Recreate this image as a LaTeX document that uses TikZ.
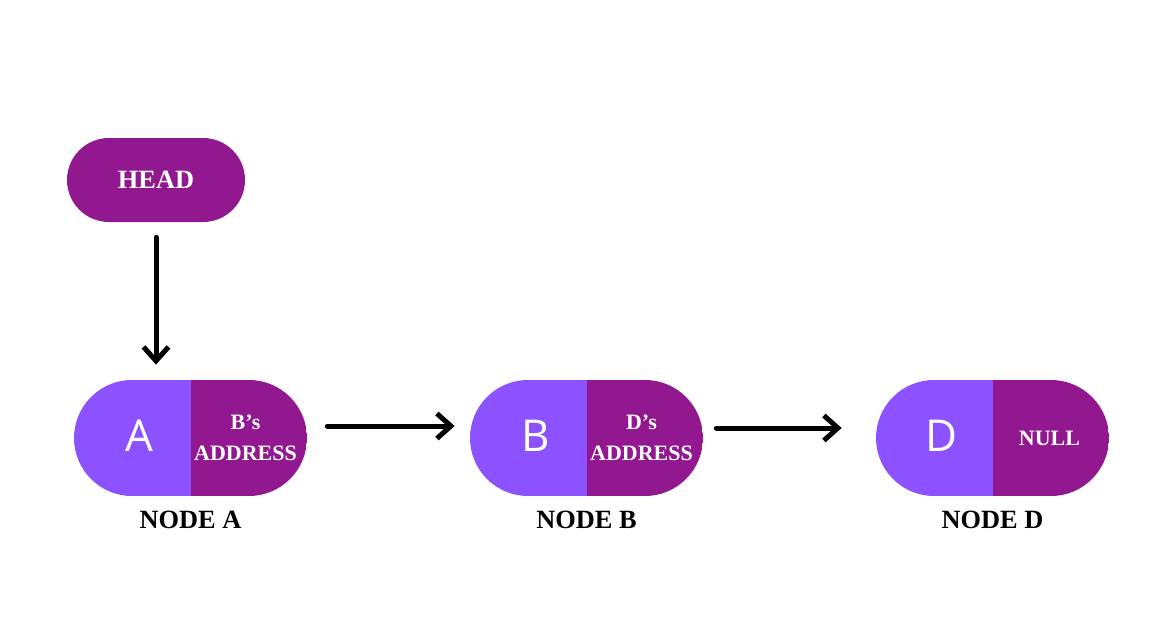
\documentclass[tikz,border=0pt]{standalone}
\usepackage{fontspec}
\setmainfont{Liberation Serif}
\newfontfamily\lettersf{Open Sans}
\usetikzlibrary{positioning,arrows.meta}
\definecolor{pillviolet}{HTML}{8C52FF}
\definecolor{pillpurple}{HTML}{921890}

\begin{document}
\begin{tikzpicture}[
    pill/.style={rectangle, rounded corners=1.16cm, minimum width=4.66cm,
      minimum height=2.32cm, inner sep=0pt,
      path picture={
        \fill[pillviolet, sharp corners] (path picture bounding box.south west)
          rectangle (path picture bounding box.north);
        \fill[pillpurple, sharp corners] (path picture bounding box.south)
          rectangle (path picture bounding box.north east);}},
    headbox/.style={rectangle, fill=pillpurple, rounded corners=0.84cm,
      minimum width=3.56cm, minimum height=1.68cm, text=white,
      font=\bfseries\fontsize{15}{15}\selectfont},
    letter/.style={text=white, font=\lettersf\fontsize{25}{25}\selectfont},
    address/.style={text=white, align=center,
      font=\bfseries\fontsize{12.5}{17.5}\selectfont},
    caption/.style={font=\bfseries\fontsize{15}{15}\selectfont},
    link/.style={-{Straight Barb[length=0.28cm,width=0.5cm]},
      line width=0.1cm, line cap=round}
  ]
  \useasboundingbox (0,0) rectangle (23.08,12.4);

  \node[headbox] (head) at (3.12, 8.8) {HEAD};

  % the three list nodes
  \node[pill] (nodeA) at (3.81, 3.64)  {};
  \node[pill] (nodeB) at (11.73, 3.64) {};
  \node[pill] (nodeD) at (19.85, 3.64) {};

  \node[letter]  (valA) at ([xshift=-1.02cm,yshift=0.04cm]nodeA.center) {A};
  \node[address] (ptrA) at ([xshift=1.1cm]nodeA.center)   {B’s\\ADDRESS};
  \node[letter]  (valB) at ([xshift=-1.02cm,yshift=0.04cm]nodeB.center) {B};
  \node[address] (ptrB) at ([xshift=1.1cm]nodeB.center)   {D’s\\ADDRESS};
  \node[letter]  (valD) at ([xshift=-1.02cm,yshift=0.04cm]nodeD.center) {D};
  \node[address] (ptrD) at ([xshift=1.14cm]nodeD.center)  {NULL};

  \node[caption, below=0.16cm of nodeA] (capA) {NODE A};
  \node[caption, below=0.16cm of nodeB] (capB) {NODE B};
  \node[caption, below=0.16cm of nodeD] (capD) {NODE D};

  \draw[link, shorten <=0.3cm, shorten >=0.3cm]
    (head.south) -- (head.south |- nodeA.north);
  \draw[link, shorten <=0.4cm, shorten >=0.3cm]
    ([yshift=0.24cm]nodeA.east) -- ([yshift=0.24cm]nodeB.west);
  \draw[link, shorten <=0.26cm, shorten >=0.68cm]
    ([yshift=0.2cm]nodeB.east) -- ([yshift=0.2cm]nodeD.west);
\end{tikzpicture}
\end{document}
